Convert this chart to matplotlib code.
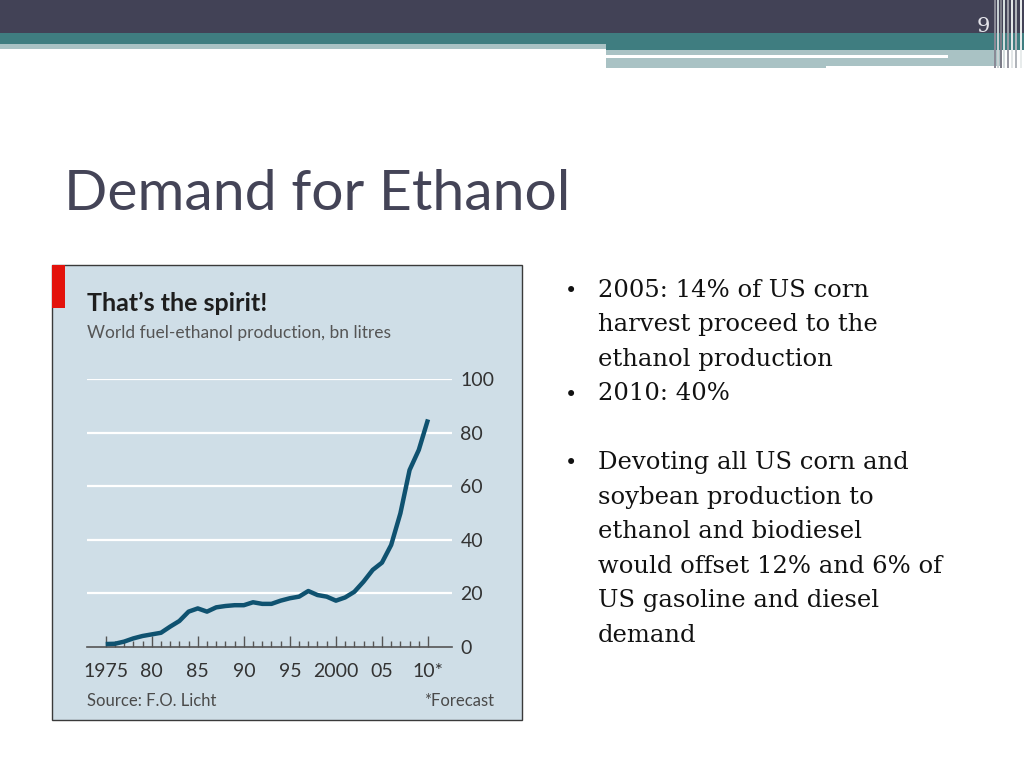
import matplotlib
matplotlib.use("Agg")
import matplotlib.pyplot as plt
from matplotlib.patches import Rectangle

# World fuel-ethanol production, bn litres
years = list(range(1975, 2011))
production = [1.0, 1.1, 1.9, 3.1, 4.0, 4.6, 5.2, 7.5, 9.6, 13.1,
              14.3, 13.1, 14.7, 15.2, 15.5, 15.5, 16.6, 16.0, 16.0, 17.2,
              18.1, 18.7, 20.8, 19.3, 18.7, 17.2, 18.4, 20.5, 24.3, 28.7,
              31.4, 38.0, 49.8, 66.0, 73.5, 84.9]

xtick_years = [1975, 1980, 1985, 1990, 1995, 2000, 2005, 2010]
xtick_labels = ['1975', '80', '85', '90', '95', '2000', '05', '10*']
ytick_values = [0, 20, 40, 60, 80, 100]

slide_title = 'Demand for Ethanol'
chart_title = 'That\u2019s the spirit!'
chart_subtitle = 'World fuel-ethanol production, bn litres'
source_note = 'Source: F.O. Licht'
forecast_note = '*Forecast'
page_number = '9'

bullet_lines = [
    ('\u2022', '2005: 14% of US corn'),
    ('', 'harvest proceed to the'),
    ('', 'ethanol production'),
    ('\u2022', '2010: 40%'),
    ('', ''),
    ('\u2022', 'Devoting all US corn and'),
    ('', 'soybean production to'),
    ('', 'ethanol and biodiesel'),
    ('', 'would offset 12% and 6% of'),
    ('', 'US gasoline and diesel'),
    ('', 'demand'),
]

W, H = 1024, 768
fig = plt.figure(figsize=(W / 100, H / 100), dpi=100)

# slide background in pixel coordinates
bg = fig.add_axes([0, 0, 1, 1])
bg.set_xlim(0, W)
bg.set_ylim(H, 0)
bg.axis('off')

def box(x0, y0, x1, y1, color, **kw):
    bg.add_patch(Rectangle((x0, y0), x1 - x0, y1 - y0, facecolor=color,
                           edgecolor=kw.pop('edgecolor', 'none'), **kw))

# header bars
box(0, 0, W, 33, '#424256')
box(0, 33, 606, 44, '#3f7d80')
box(0, 44, 606, 49, '#a9c2c4')
box(606, 33, W, 50, '#3f7d80')
box(606, 50, 1000, 66, '#a9c2c4')
box(606, 66, 826, 68, '#a9c2c4')
box(606, 55, 948, 58, 'white')
stripes = [(994, '#8a8a96'), (997, '#c8d0d2'), (1000, '#7c7c88'), (1003, '#d5dcdd'),
           (1007, '#9a9aa4'), (1011, '#e2e6e7'), (1015, '#b0b4ba'), (1020, '#e8ecec')]
for sx, sc in stripes:
    box(sx, 0, sx + 2, 68, sc)
bg.text(983, 26, page_number, color='#e4e4ea', fontsize=15,
        family='DejaVu Serif', ha='center', va='center')

bg.text(64, 210, slide_title, color='#444457', fontsize=41,
        family='Lato', ha='left', va='baseline')

# chart panel
box(52, 265, 522, 720, '#cfdee7', edgecolor='#3a3a3a', linewidth=1.0)
box(52, 265, 65, 308, '#e3120b')
bg.text(87, 311, chart_title, fontsize=18, fontweight='bold', color='#1e1e1e',
        family='Lato', ha='left', va='baseline')
bg.text(87, 338, chart_subtitle, fontsize=12.5, color='#555555',
        family='Lato', ha='left', va='baseline')
bg.text(87, 706, source_note, fontsize=12, color='#4a4a4a',
        family='Lato', ha='left', va='baseline')
bg.text(494, 706, forecast_note, fontsize=12, color='#4a4a4a',
        family='Lato', ha='right', va='baseline')

# bullets
y = 297
for bullet, line in bullet_lines:
    if bullet:
        bg.text(565, y, bullet, fontsize=15, color='#111111',
                family='DejaVu Serif', ha='left', va='baseline')
    bg.text(598, y, line, fontsize=17.5, color='#111111',
            family='DejaVu Serif', ha='left', va='baseline')
    y += 34.5

# line chart
ax = fig.add_axes([87 / W, (H - 646.7) / H, 365 / W, 267.7 / H])
ax.patch.set_alpha(0)
px_per_year = (428 - 105.7) / 35
ax.set_xlim(1975 - (105.7 - 87) / px_per_year, 2010 + (452 - 428) / px_per_year)
ax.set_ylim(0, 100)
for v in ytick_values[1:]:
    ax.axhline(v, color='white', linewidth=1.6, zorder=1)
ax.plot(years, production, color='#0f5270', linewidth=3.2,
        solid_capstyle='butt', zorder=3, clip_on=False)

for s in ['top', 'left', 'right']:
    ax.spines[s].set_visible(False)
ax.spines['bottom'].set_color('#555555')
ax.spines['bottom'].set_linewidth(1.2)

ax.set_xticks(xtick_years)
ax.set_xticklabels(xtick_labels, family='Lato', fontsize=14, color='#333333')
ax.set_xticks(years, minor=True)
ax.tick_params(axis='x', which='major', direction='in', length=8, width=1,
               color='#555555', pad=12)
ax.tick_params(axis='x', which='minor', direction='in', length=4.5, width=1,
               color='#555555')

ax.yaxis.tick_right()
ax.set_yticks(ytick_values)
ax.set_yticklabels([str(v) for v in ytick_values], family='Lato',
                   fontsize=14, color='#333333')
ax.tick_params(axis='y', length=0, pad=6)

fig.savefig('out.png', dpi=100)
